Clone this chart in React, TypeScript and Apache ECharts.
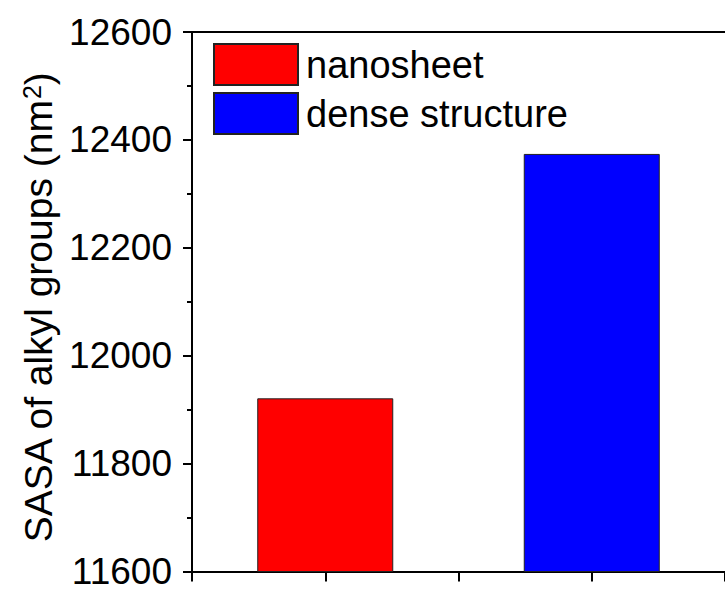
import React, { useEffect, useRef } from "react";
import * as echarts from "echarts";

const seriesNames = ["nanosheet", "dense structure"];
const xPositions = [1, 3];
const sasaValues = [11921, 12374];
const barColors = ["#ff0000", "#0000ff"];
const yMin = 11600;
const yMax = 12600;
const yStep = 200;

export default function App() {
  const ref = useRef<HTMLDivElement>(null);
  useEffect(() => {
    if (!ref.current) return;
    const chart = echarts.init(ref.current, null, { renderer: "svg" });
    const font = "Arial, 'Liberation Sans', sans-serif";
    const axisLineStyle = { color: "#000", width: 2 };
    chart.setOption({
      animation: false,
      backgroundColor: "#fff",
      grid: { left: 192, top: 32, right: -9, bottom: 18, containLabel: false },
      legend: {
        orient: "vertical",
        left: 213,
        top: 43,
        padding: 0,
        itemWidth: 84,
        itemHeight: 41,
        itemGap: 6,
        icon: "rect",
        data: seriesNames,
        textStyle: { fontSize: 38, color: "#000", fontFamily: font, padding: [0, 0, 0, 3] },
      },
      xAxis: [
        {
          type: "value",
          min: 0,
          max: 4,
          interval: 1,
          axisLine: { show: true, onZero: false, lineStyle: axisLineStyle },
          axisTick: { show: true, inside: false, length: 10, lineStyle: { color: "#000", width: 2 } },
          axisLabel: { show: false },
          splitLine: { show: false },
        },
        {
          type: "value",
          position: "top",
          min: 0,
          max: 4,
          axisLine: { show: true, onZero: false, lineStyle: axisLineStyle },
          axisTick: { show: false },
          axisLabel: { show: false },
          splitLine: { show: false },
        },
      ],
      yAxis: {
        type: "value",
        min: yMin,
        max: yMax,
        interval: yStep,
        name: "SASA of alkyl groups (nm{sup|2})",
        nameLocation: "middle",
        nameGap: 132,
        nameRotate: 90,
        nameTextStyle: {
          fontSize: 39,
          color: "#000",
          fontFamily: font,
          padding: [0, 12, 0, 0],
          rich: {
            sup: { fontSize: 25, color: "#000", fontFamily: font, verticalAlign: "top" },
          },
        },
        axisLine: { show: true, onZero: false, lineStyle: axisLineStyle },
        axisTick: { show: true, inside: false, length: 9, lineStyle: { color: "#000", width: 2 } },
        minorTick: { show: true, splitNumber: 2, length: 5, lineStyle: { color: "#000", width: 2 } },
        axisLabel: {
          fontSize: 37,
          lineHeight: 34,
          color: "#000",
          fontFamily: font,
          margin: 20,
          formatter: (v: number) => String(v),
        },
        splitLine: { show: false },
      },
      series: seriesNames.map((name, i) => ({
        name,
        type: "bar",
        barWidth: 136,
        barGap: "-100%",
        data: [[xPositions[i], sasaValues[i]]],
        itemStyle: { color: barColors[i], borderColor: "#222", borderWidth: 1 },
      })),
    });
    return () => chart.dispose();
  }, []);
  return (
    <div
      ref={ref}
      style={{ position: "fixed", left: 0, top: 0, width: 725, height: 590, background: "#fff" }}
    />
  );
}
